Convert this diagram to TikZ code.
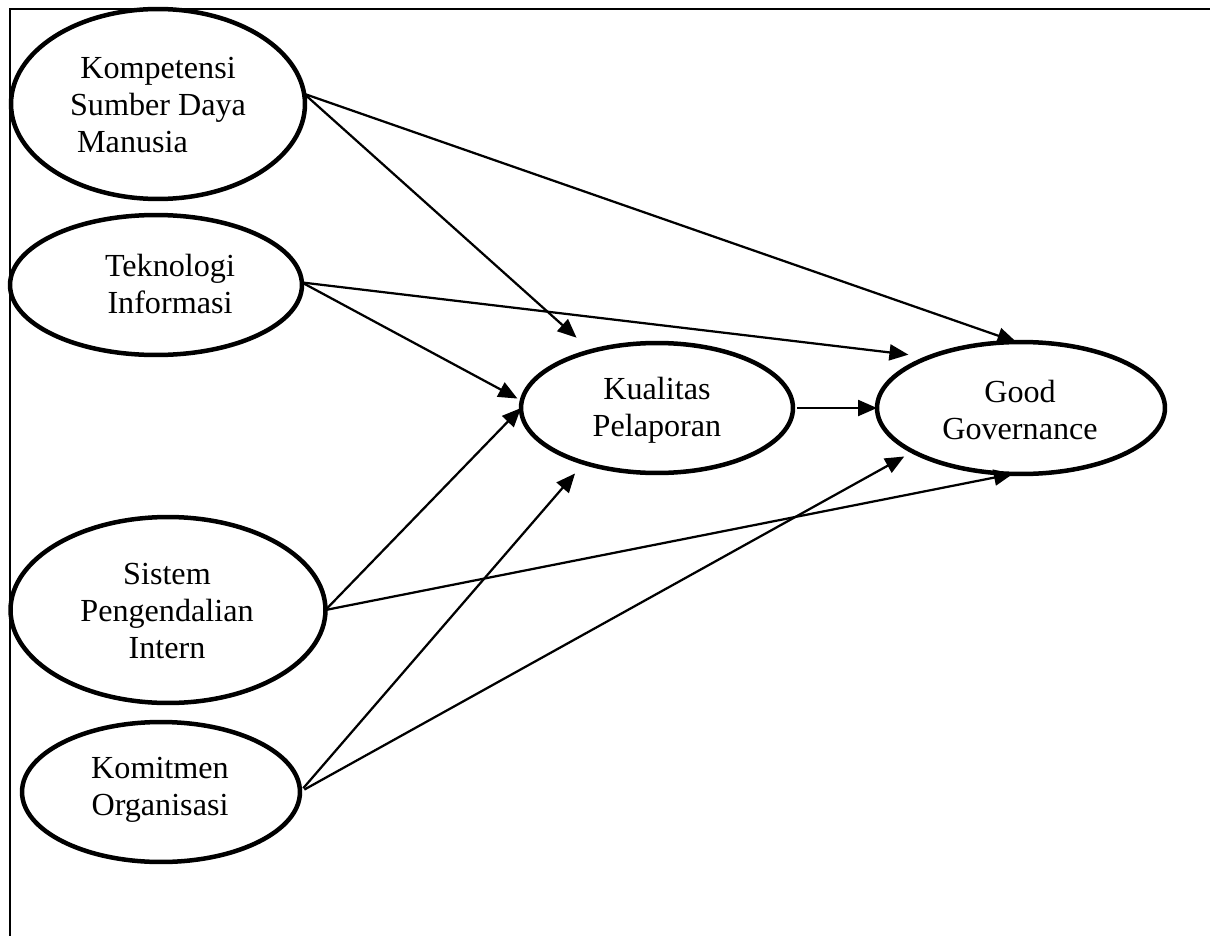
\documentclass[tikz,border=0pt]{standalone}
\usepackage{fontspec}
\setmainfont{Liberation Serif}
\usetikzlibrary{shapes.geometric,arrows.meta}

\begin{document}
\begin{tikzpicture}[x=0.02cm,y=-0.02cm,
  latent/.style={draw,ellipse,line width=0.09cm,outer sep=0pt,inner sep=0pt},
  caption/.style={align=center,font=\fontsize{18.3}{21}\selectfont},
  path/.style={line width=0.045cm,-{Triangle[length=0.38cm,width=0.32cm]}},
  frameline/.style={line width=0.03cm}]

\useasboundingbox (0,0) rectangle (1210,936);

% outer frame (top and left sides)
\coordinate (fbl) at (10,936);
\coordinate (ftl) at (10,9);
\coordinate (ftr) at (1210,9);
\draw[frameline] (fbl) -- (ftl) -- (ftr);

% latent variables
\node[latent,minimum width=5.88cm,minimum height=3.8cm] (ksdm) at (158,104) {};
\node[latent,minimum width=5.84cm,minimum height=2.8cm] (ti) at (156,285) {};
\node[latent,minimum width=6.3cm,minimum height=3.72cm] (spi) at (168,610) {};
\node[latent,minimum width=5.56cm,minimum height=2.8cm] (kom) at (161,792) {};
\node[latent,minimum width=5.44cm,minimum height=2.6cm] (kp) at (657,408) {};
\node[latent,minimum width=5.76cm,minimum height=2.64cm] (gg) at (1021,408) {};

% variable names
\node[caption] (tksdm) at (158,105) {Kompetensi\\Sumber Daya\\\hspace*{-29pt}Manusia};
\node[caption] (tti) at (170,284) {Teknologi\\Informasi};
\node[caption] (tspi) at (167,611) {Sistem\\Pengendalian\\Intern};
\node[caption] (tkom) at (160,790) {Komitmen\\Organisasi};
\node[caption] (tkp) at (657,410) {Kualitas\\Pelaporan};
\node[caption] (tgg) at (1020,410) {Good\\Governance};

% paths into Kualitas Pelaporan
\draw[path,shorten >=0.4cm] (ksdm.4.7) -- (kp.139.9);
\draw[path,shorten >=0.1cm] (ti.1.2) -- (kp.177.3);
\draw[path] (spi.0) -- (kp.180.4);
\draw[path,shorten <=0.1cm,shorten >=0.28cm] (kom.0) -- (kp.217.1);

% paths into Good Governance
\draw[path] (ksdm.4.7) -- (gg.94.3);
\draw[path,shorten >=0.42cm] (ti.1.2) -- (gg.151.5);
\draw[path,shorten <=0.08cm] (kp.0) -- (gg.180);
\draw[path] (spi.0) -- (gg.263);
\draw[path,shorten <=0.1cm,shorten >=0.2cm] (kom.0) -- (gg.202.3);

\end{tikzpicture}
\end{document}
